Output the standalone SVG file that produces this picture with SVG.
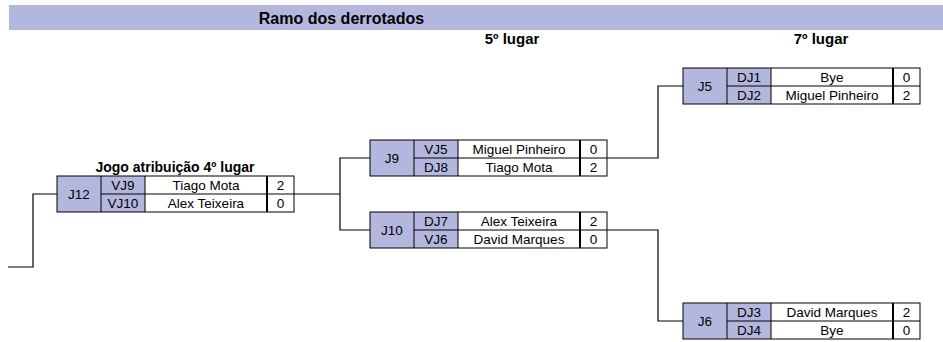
<svg xmlns="http://www.w3.org/2000/svg" width="943" height="342" viewBox="0 0 943 342">
<defs>
<style>
text{font-family:"Liberation Sans",Arial,sans-serif;fill:#000;text-anchor:middle}
.t{font-size:13.5px}
.h{font-size:14px;font-weight:bold}
.h1{font-size:16px;font-weight:bold}
.h2{font-size:15px;font-weight:bold}
.fill{fill:#b4b7dd}
.wh{fill:#fff}
.ln{stroke:#000;stroke-width:1;fill:none}
.thk{stroke:#000;stroke-width:2;fill:none}
.con{stroke:#000;stroke-width:1.2;fill:none}
</style>
<g id="box">
<rect class="wh" x="0" y="0" width="237" height="36"/>
<rect class="fill" x="0" y="0" width="88" height="36"/>
<path class="ln" d="M44,0V36M88,0V36M44,18H237"/>
<path class="thk" d="M210,0V36"/>
<rect class="ln" x="0" y="0" width="237" height="36" stroke-width="1.5"/>
</g>
</defs>
<rect class="fill" x="9" y="5" width="934" height="25"/>
<text class="h1" x="341.5" y="24">Ramo dos derrotados</text>
<text class="h2" x="512" y="44">5º lugar</text>
<text class="h2" x="821" y="44">7º lugar</text>
<g id="connectors">
<path class="con" d="M57,194H33V267H8"/>
<path class="con" d="M294,194H340M370,158H340V230H370"/>
<path class="con" d="M607,158H658V86H683"/>
<path class="con" d="M607,230H658V321H683"/>
</g>
<g id="J12" transform="translate(57,176)">
<use href="#box"/>
<text class="t" x="22" y="22.5">J12</text>
<text class="t" x="66" y="13.5">VJ9</text>
<text class="t" x="66" y="31.5">VJ10</text>
<text class="t" x="149" y="13.5">Tiago Mota</text>
<text class="t" x="149" y="31.5">Alex Teixeira</text>
<text class="t" x="223.5" y="13.5">2</text>
<text class="t" x="223.5" y="31.5">0</text>
</g>
<text class="h" x="175" y="172">Jogo atribuição 4º lugar</text>
<g id="J9" transform="translate(370,140)">
<use href="#box"/>
<text class="t" x="22" y="22.5">J9</text>
<text class="t" x="66" y="13.5">VJ5</text>
<text class="t" x="66" y="31.5">DJ8</text>
<text class="t" x="149" y="13.5">Miguel Pinheiro</text>
<text class="t" x="149" y="31.5">Tiago Mota</text>
<text class="t" x="223.5" y="13.5">0</text>
<text class="t" x="223.5" y="31.5">2</text>
</g>
<g id="J10" transform="translate(370,212)">
<use href="#box"/>
<text class="t" x="22" y="22.5">J10</text>
<text class="t" x="66" y="13.5">DJ7</text>
<text class="t" x="66" y="31.5">VJ6</text>
<text class="t" x="149" y="13.5">Alex Teixeira</text>
<text class="t" x="149" y="31.5">David Marques</text>
<text class="t" x="223.5" y="13.5">2</text>
<text class="t" x="223.5" y="31.5">0</text>
</g>
<g id="J5" transform="translate(683,68)">
<use href="#box"/>
<text class="t" x="22" y="22.5">J5</text>
<text class="t" x="66" y="13.5">DJ1</text>
<text class="t" x="66" y="31.5">DJ2</text>
<text class="t" x="149" y="13.5">Bye</text>
<text class="t" x="149" y="31.5">Miguel Pinheiro</text>
<text class="t" x="223.5" y="13.5">0</text>
<text class="t" x="223.5" y="31.5">2</text>
</g>
<g id="J6" transform="translate(683,303)">
<use href="#box"/>
<text class="t" x="22" y="22.5">J6</text>
<text class="t" x="66" y="13.5">DJ3</text>
<text class="t" x="66" y="31.5">DJ4</text>
<text class="t" x="149" y="13.5">David Marques</text>
<text class="t" x="149" y="31.5">Bye</text>
<text class="t" x="223.5" y="13.5">2</text>
<text class="t" x="223.5" y="31.5">0</text>
</g>
</svg>
